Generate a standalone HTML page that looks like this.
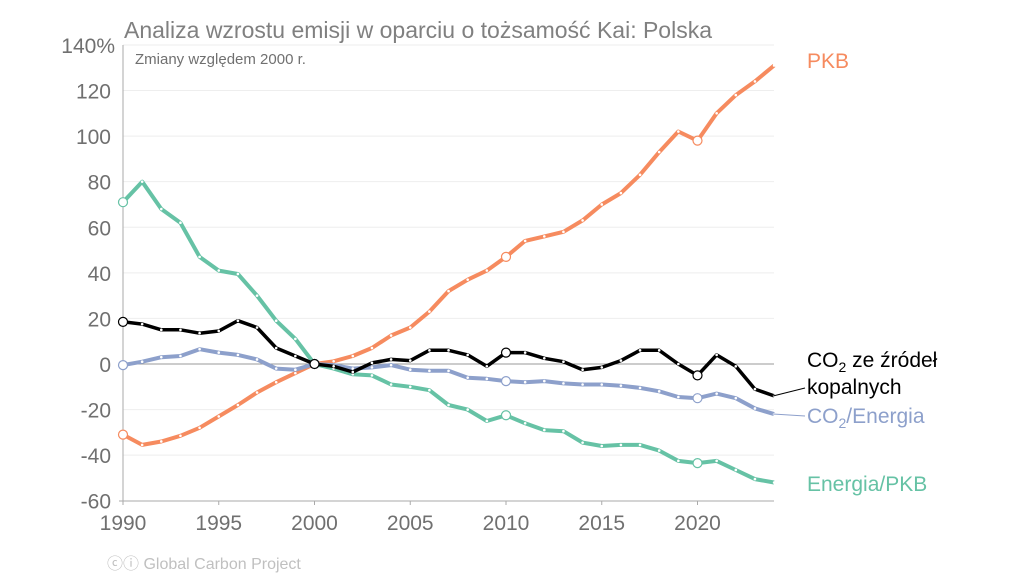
<!DOCTYPE html>
<html><head><meta charset="utf-8"><style>
body{margin:0;background:#fff;}
svg{display:block;font-family:"Liberation Sans",sans-serif;}
</style></head><body>
<svg id="s" width="1024" height="576" viewBox="0 0 1024 576">
<g id="grid"></g>
<text x="124" y="38" font-size="23" fill="#808080">Analiza wzrostu emisji w oparciu o tożsamość Kai: Polska</text>
<text x="135" y="64" font-size="15" fill="#707070">Zmiany względem 2000 r.</text>
<g id="series"></g>
<text x="807" y="68" font-size="21" fill="#f68b5f">PKB</text>
<text x="807" y="367" font-size="21" fill="#000">CO<tspan font-size="14" dy="5">2</tspan><tspan dy="-5"> ze źródeł</tspan></text>
<text x="807" y="394" font-size="21" fill="#000">kopalnych</text>
<line x1="773" y1="396" x2="805" y2="388" stroke="#000" stroke-width="1"/>
<text x="807" y="423" font-size="21" fill="#8da0cb">CO<tspan font-size="14" dy="5">2</tspan><tspan dy="-5">/Energia</tspan></text>
<line x1="773" y1="414" x2="805" y2="416" stroke="#8da0cb" stroke-width="1"/>
<text x="807" y="491" font-size="21" fill="#66c2a5">Energia/PKB</text>
<text x="107" y="569" font-size="16" fill="#c0c0c0">ⓒⓘ Global Carbon Project</text>
</svg>
<script>
var NS="http://www.w3.org/2000/svg";
function X(y){return 123+(y-1990)*19.15;}
function Y(v){return 364-v*2.279;}
function el(t,a,p){var e=document.createElementNS(NS,t);for(var k in a)e.setAttribute(k,a[k]);p.appendChild(e);return e;}
var g=document.getElementById('grid'),s=document.getElementById('series');
for(var v=-60;v<=140;v+=20){
 if(v!=-60&&v!=0)el('line',{x1:123,x2:774,y1:Y(v),y2:Y(v),stroke:'#eeeeee','stroke-width':1},g);
 var t=el('text',{x:111,y:Y(v)+8,'font-size':21,fill:'#707070','text-anchor':'end'},g);t.textContent=v==140?'140%':v;
 if(v==140){t.setAttribute('x',115);}
}
el('line',{x1:123,x2:774,y1:Y(0),y2:Y(0),stroke:'#999','stroke-width':1},g);
el('line',{x1:123,x2:123,y1:45,y2:501,stroke:'#aaa','stroke-width':1},g);
el('line',{x1:119,x2:774,y1:501,y2:501,stroke:'#aaa','stroke-width':1},g);
for(var y=1990;y<=2020;y+=5){el('line',{x1:X(y),x2:X(y),y1:501,y2:505,stroke:'#aaa'},g);
 var t=el('text',{x:X(y),y:530,'font-size':21,fill:'#707070','text-anchor':'middle'},g);t.textContent=y;}
var D={
"#f68b5f":[-31,-35.5,-34,-31.5,-28,-23,-18,-12.5,-8,-4,0,1.2,3.5,7,12.5,16,23,32,37,41,47,54,56,58,63,70,75,83,93,102,98,110,118,124,131],
"#66c2a5":[71,80,68,62,47,41,39.5,30,19,11,0,-2,-4.5,-5,-9,-10,-11.5,-18,-20,-25,-22.5,-26,-29,-29.5,-34.5,-36,-35.5,-35.5,-38,-42.5,-43.5,-42.5,-46.5,-50.5,-52],
"#8da0cb":[-0.5,1,3,3.5,6.5,5,4,2,-2,-2.5,0,-0.5,-2,-1.5,-0.5,-2.5,-3,-3,-6,-6.5,-7.5,-8,-7.5,-8.5,-9,-9,-9.5,-10.5,-12,-14.5,-15,-13,-15,-19.5,-22],
"#000000":[18.5,17.5,15,15,13.5,14.5,19,16,7,3.5,0,-1,-3.5,0.5,2,1.5,6,6,4,-1,5,5,2.5,1,-2.5,-1.5,1.5,6,6,0,-5,4,-1,-11,-14]};
for(var c in D){var d=D[c],pts=d.map(function(v,i){return X(1990+i).toFixed(1)+','+Y(v).toFixed(1)}).join(' ');
 el('polyline',{points:pts,fill:'none',stroke:c,'stroke-width':c=='#000000'?3.5:4,'stroke-linejoin':'round'},s);
 d.forEach(function(v,i){var big=(i%10==0);el('circle',{cx:X(1990+i),cy:Y(v),r:big?4.5:1.3,fill:'#fff',stroke:big?c:'none','stroke-width':1.2},s);});}
</script>
</body></html>
